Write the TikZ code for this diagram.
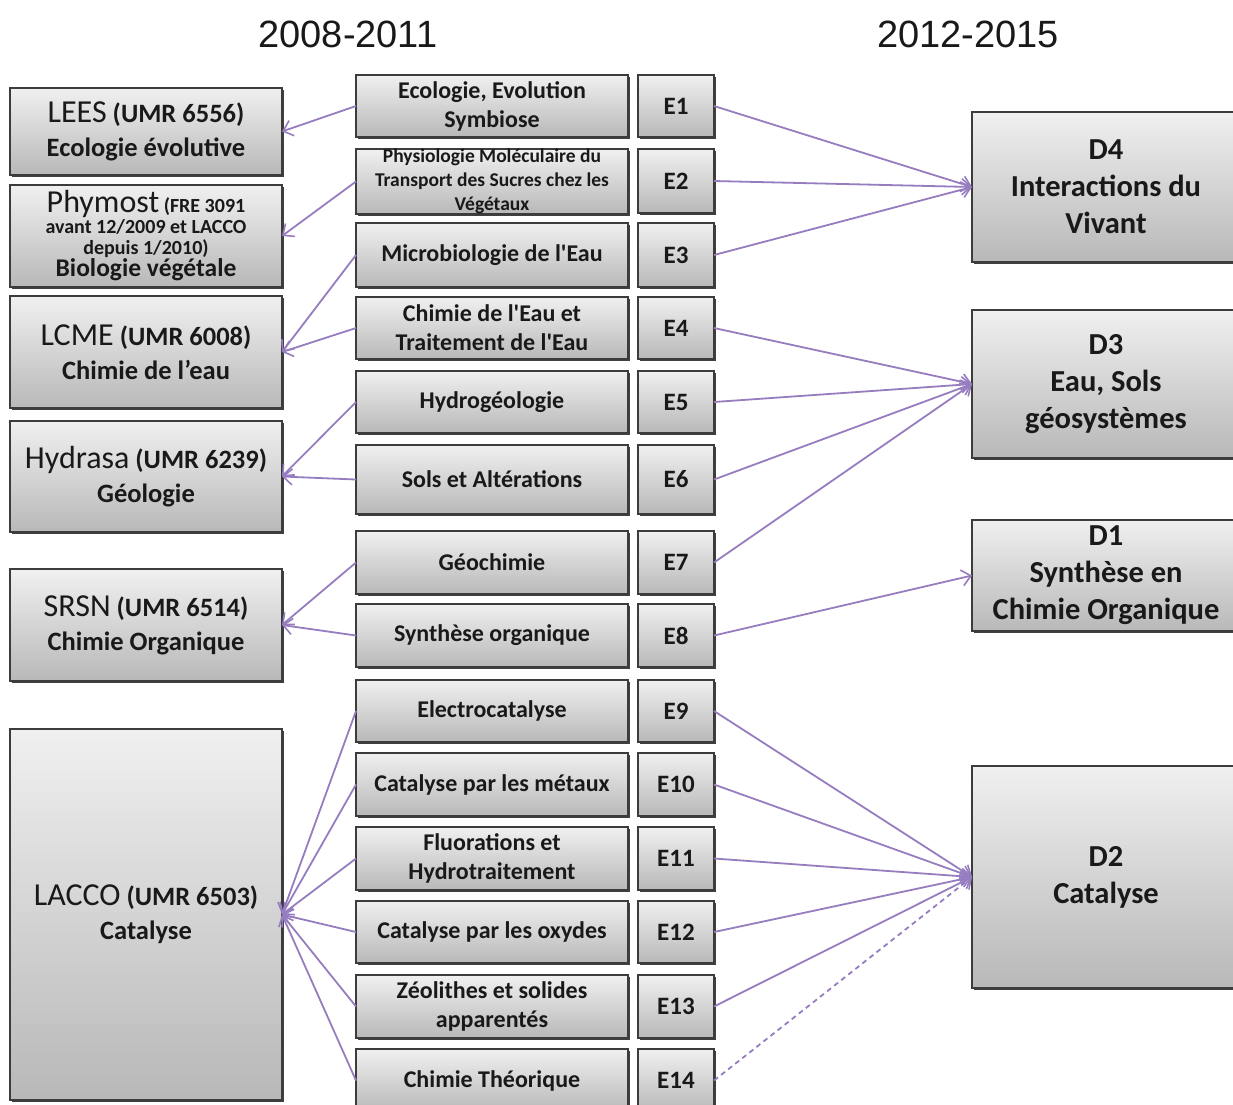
\documentclass[tikz,border=0pt]{standalone}
\usepackage{fontspec}
\setmainfont{Carlito}
\newfontfamily\rawcarlito{Carlito}
\newfontfamily\titlefont{Liberation Sans}
\usetikzlibrary{arrows.meta,shadows}
\definecolor{linkc}{RGB}{150,125,192}
\definecolor{boxborder}{RGB}{60,60,60}
\definecolor{boxtop}{RGB}{240,240,240}
\definecolor{boxbot}{RGB}{184,184,184}
\definecolor{txt}{RGB}{25,25,25}
\newcommand{\sq}{{\rawcarlito\bfseries '}}
\tikzset{
  box/.style={draw=boxborder, line width=1.2pt, top color=boxtop, bottom color=boxbot,
    drop shadow={shadow xshift=2pt, shadow yshift=-2pt, fill=black!75, opacity=1},
    align=center, inner sep=0pt, outer sep=0pt, anchor=north west, text=txt,
    font=\bfseries\fontsize{24}{29}\selectfont},
  lbox/.style={box, minimum width=272pt, font=\bfseries\fontsize{26.5}{34}\selectfont},
  mbox/.style={box, minimum width=272pt},
  ebox/.style={box, minimum width=76pt, font=\bfseries\fontsize{25}{29}\selectfont},
  dbox/.style={box, minimum width=268pt, font=\bfseries\fontsize{30.5}{37}\selectfont},
  link/.style={draw=linkc, line width=1.8pt, -{Straight Barb[length=9pt,width=16pt,line width=1.6pt]}},
  dlink/.style={link, dash pattern=on 5pt off 4pt},
  ttl/.style={font=\titlefont\fontsize{38}{42}\selectfont, text=black!90, inner sep=0pt}
}
\newcommand{\bigname}[1]{{\mdseries\fontsize{32}{34}\selectfont #1}}
\begin{document}
\begin{tikzpicture}[x=1pt,y=-1pt]
\clip (0,0) rectangle (1233,1104);
\fill[white] (0,0) rectangle (1233,1104);
% titles
\node[ttl] (t1) at (348,34) {2008-2011};
\node[ttl] (t2) at (968,34) {2012-2015};
% left boxes
\node[lbox, minimum height=87pt] (lees) at (10,88) {\bigname{LEES} (UMR 6556)\\Ecologie évolutive};
\node[lbox, minimum height=102pt, font=\bfseries\fontsize{20}{21}\selectfont] (phy) at (10,185)
  {\bigname{Phymost} (FRE 3091\\avant 12/2009 et LACCO\\depuis 1/2010)\\[0pt]{\fontsize{25.5}{23}\selectfont Biologie végétale}};
\node[lbox, minimum height=112pt] (lcme) at (10,296) {\bigname{LCME} (UMR 6008)\\Chimie de l’eau};
\node[lbox, minimum height=111pt] (hyd) at (10,421) {\bigname{Hydrasa} (UMR 6239)\\Géologie};
\node[lbox, minimum height=112pt] (srsn) at (10,569) {\bigname{SRSN} (UMR 6514)\\Chimie Organique};
\node[lbox, minimum height=371pt] (lacco) at (10,729) {\bigname{LACCO} (UMR 6503)\\Catalyse};
% middle boxes
\node[mbox, minimum height=62pt] (m1) at (356,75) {Ecologie, Evolution\\Symbiose};
\node[mbox, minimum height=64pt, font=\bfseries\fontsize{19.5}{24}\selectfont] (m2) at (356,149) {Physiologie Moléculaire du\\Transport des Sucres chez les\\Végétaux};
\node[mbox, minimum height=64pt] (m3) at (356,223) {Microbiologie de l\sq Eau};
\node[mbox, minimum height=62pt] (m4) at (356,297) {Chimie de l\sq Eau et\\Traitement de l\sq Eau};
\node[mbox, minimum height=62pt] (m5) at (356,371) {Hydrogéologie};
\node[mbox, minimum height=69pt] (m6) at (356,445) {Sols et Altérations};
\node[mbox, minimum height=63pt] (m7) at (356,531) {Géochimie};
\node[mbox, minimum height=63pt] (m8) at (356,604) {Synthèse organique};
\node[mbox, minimum height=62pt] (m9) at (356,680) {Electrocatalyse};
\node[mbox, minimum height=63pt] (m10) at (356,753) {Catalyse par les métaux};
\node[mbox, minimum height=63pt] (m11) at (356,827) {Fluorations et\\Hydrotraitement};
\node[mbox, minimum height=62pt] (m12) at (356,901) {Catalyse par les oxydes};
\node[mbox, minimum height=63pt] (m13) at (356,975) {Zéolithes et solides\\apparentés};
\node[mbox, minimum height=63pt] (m14) at (356,1049) {Chimie Théorique};
% E boxes
\node[ebox, minimum height=62pt] (e1) at (638,75) {E1};
\node[ebox, minimum height=64pt] (e2) at (638,149) {E2};
\node[ebox, minimum height=64pt] (e3) at (638,223) {E3};
\node[ebox, minimum height=62pt] (e4) at (638,297) {E4};
\node[ebox, minimum height=62pt] (e5) at (638,371) {E5};
\node[ebox, minimum height=69pt] (e6) at (638,445) {E6};
\node[ebox, minimum height=63pt] (e7) at (638,531) {E7};
\node[ebox, minimum height=63pt] (e8) at (638,604) {E8};
\node[ebox, minimum height=62pt] (e9) at (638,680) {E9};
\node[ebox, minimum height=63pt] (e10) at (638,753) {E10};
\node[ebox, minimum height=63pt] (e11) at (638,827) {E11};
\node[ebox, minimum height=62pt] (e12) at (638,901) {E12};
\node[ebox, minimum height=63pt] (e13) at (638,975) {E13};
\node[ebox, minimum height=63pt] (e14) at (638,1049) {E14};
% D boxes
\node[dbox, minimum height=150pt] (d4) at (972,112) {D4\\Interactions du\\Vivant};
\node[dbox, minimum height=148pt] (d3) at (972,310) {D3\\Eau, Sols\\géosystèmes};
\node[dbox, minimum height=111pt] (d1) at (972,520) {D1\\Synthèse en\\Chimie Organique};
\node[dbox, minimum height=222pt] (d2) at (972,766) {D2\\Catalyse};
% left links
\draw[link] (m1.west) -- (lees.east);
\draw[link] (m2.west) -- (phy.east);
\draw[link] (m3.west) -- (lcme.east);
\draw[link] (m4.west) -- (lcme.east);
\draw[link] (m5.west) -- (hyd.east);
\draw[link] (m6.west) -- (hyd.east);
\draw[link] (m7.west) -- (srsn.east);
\draw[link] (m8.west) -- (srsn.east);
\foreach \i in {9,...,14} \draw[link] (m\i.west) -- (lacco.east);
% right links
\foreach \i in {1,2,3} \draw[link] (e\i.east) -- (d4.west);
\foreach \i in {4,5,6,7} \draw[link] (e\i.east) -- (d3.west);
\draw[link] (e8.east) -- (d1.west);
\foreach \i in {9,...,13} \draw[link] (e\i.east) -- (d2.west);
\draw[dlink] (e14.east) -- (d2.west);
\end{tikzpicture}
\end{document}
